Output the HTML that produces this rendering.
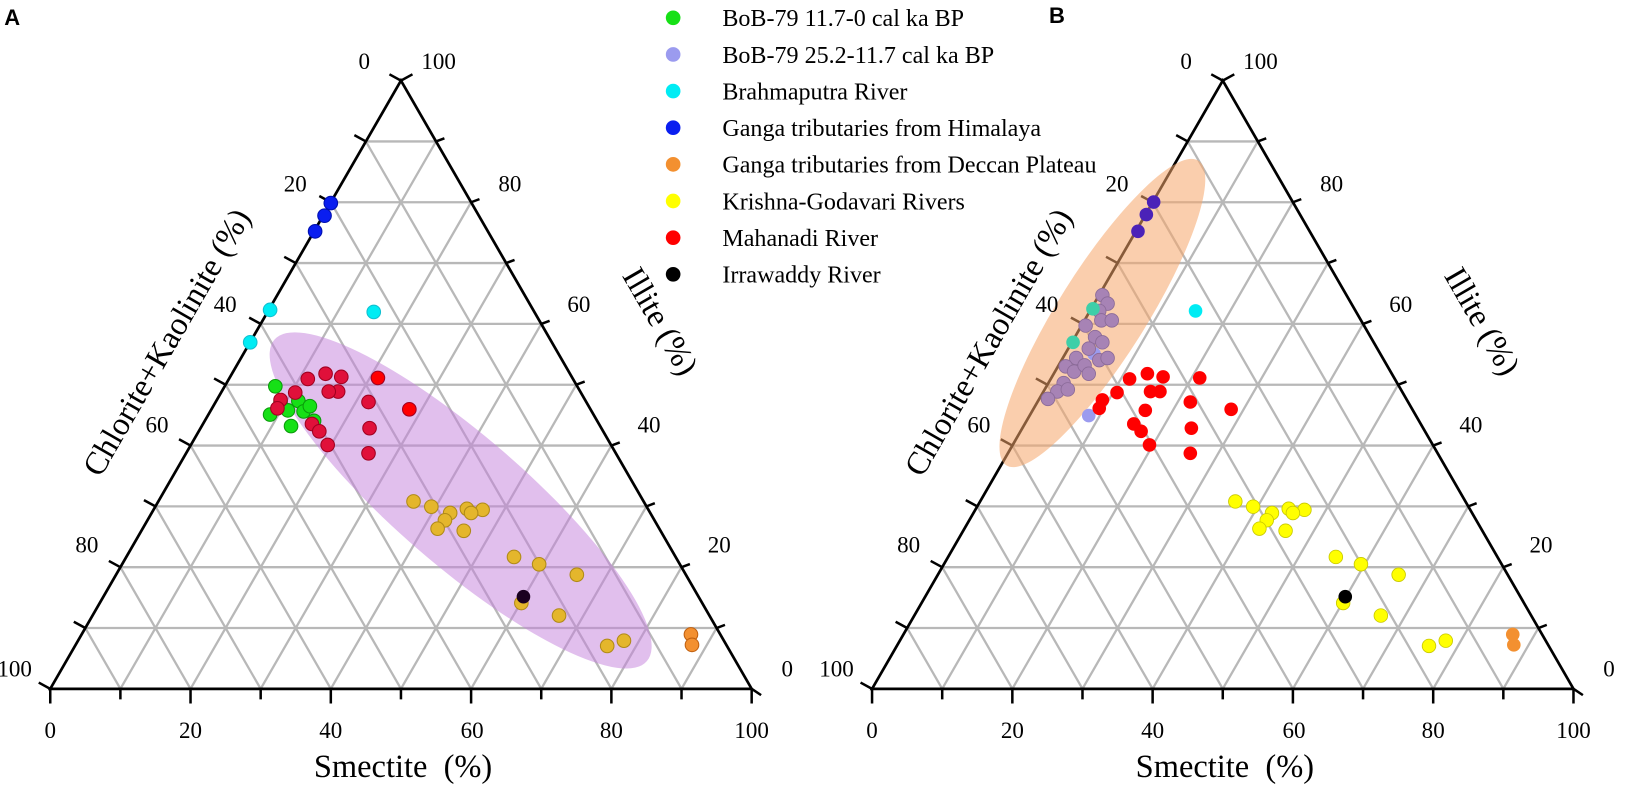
<!DOCTYPE html>
<html><head><meta charset="utf-8"><style>
html,body{margin:0;padding:0;background:#fff;}
svg{display:block;font-family:"Liberation Serif",serif;}
</style></head><body>
<svg width="1641" height="804" viewBox="0 0 1567.5 768" preserveAspectRatio="none" xmlns="http://www.w3.org/2000/svg">
<defs>
<g id="grid" stroke="#b8b8b8" stroke-width="2.2" fill="none">
<path d="M81.5 599.9H684.5M115 541.8H651M148.5 483.7H617.5M182 425.6H584M215.5 367.5H550.5M249 309.4H517M282.5 251.3H483.5M316 193.2H450M349.5 135.1H416.5"/>
<path d="M115 658L416.5 135.1M182 658L450 193.2M249 658L483.5 251.3M316 658L517 309.4M383 658L550.5 367.5M450 658L584 425.6M517 658L617.5 483.7M584 658L651 541.8M651 658L684.5 599.9"/>
<path d="M115 658L81.5 599.9M182 658L115 541.8M249 658L148.5 483.7M316 658L182 425.6M383 658L215.5 367.5M450 658L249 309.4M517 658L282.5 251.3M584 658L316 193.2M651 658L349.5 135.1"/>
</g>
<g id="axes" stroke="#000" fill="none">
<path d="M48 658L718 658L383 77Z" stroke-width="2.6" stroke-linejoin="miter"/>
<path stroke-width="2.4" d="M48 658v14M115 658v10M182 658v14M249 658v10M316 658v14M383 658v10M450 658v14M517 658v10M584 658v14M651 658v10M718 658v14
M48 658l-11-6M81.5 599.9l-11-6M115 541.8l-11-6M148.5 483.7l-11-6M182 425.6l-11-6M215.5 367.5l-11-6M249 309.4l-11-6M282.5 251.3l-11-6M316 193.2l-11-6M349.5 135.1l-11-6M383 77l-11-6
M383 77l11-6M416.5 135.1l8-3M450 193.2l8-3M483.5 251.3l8-3M517 309.4l8-3M550.5 367.5l8-3M584 425.6l8-3M617.5 483.7l8-3M651 541.8l8-3M684.5 599.9l8-3M718 658l9 6"/>
</g>
</defs>

<!-- Panel A -->
<use href="#grid"/>
<ellipse cx="440" cy="478" rx="235" ry="62" transform="rotate(40.8 440 478)" fill="#c47fdc" fill-opacity="0.5"/>
<use href="#axes"/>
<g font-size="22" text-anchor="middle" fill="#000">
<text x="348" y="66">0</text><text x="419" y="66">100</text>
<text x="282" y="183">20</text><text x="215" y="298">40</text><text x="150" y="413">60</text><text x="83" y="528">80</text><text x="14" y="646">100</text>
<text x="487" y="183">80</text><text x="553" y="298">60</text><text x="620" y="413">40</text><text x="687" y="528">20</text><text x="752" y="646">0</text>
<text x="48" y="705">0</text><text x="182" y="705">20</text><text x="316" y="705">40</text><text x="451" y="705">60</text><text x="584" y="705">80</text><text x="718" y="705">100</text>
</g>
<g font-size="31" text-anchor="middle">
<text x="385" y="742" xml:space="preserve">Smectite  (%)</text>
<text transform="translate(168,332) rotate(-60)">Chlorite+Kaolinite (%)</text>
<text transform="translate(622,312) rotate(60)">Illite (%)</text>
</g>
<text x="4" y="24" font-family="Liberation Sans,sans-serif" font-weight="bold" font-size="21">A</text>

<g stroke-width="1">
<g fill="#0a1ef0" stroke="#0010b0"><circle cx="316" cy="194" r="6.5"/><circle cx="310" cy="206" r="6.5"/><circle cx="301" cy="221" r="6.5"/></g>
<g fill="#00ecf4" stroke="#10c0d0"><circle cx="258" cy="296" r="6.5"/><circle cx="239" cy="327" r="6.5"/><circle cx="357" cy="298" r="6.5"/></g>
<g fill="#16e016" stroke="#0a9a0a"><circle cx="263" cy="369" r="6.5"/><circle cx="258" cy="396" r="6.5"/><circle cx="278" cy="407" r="6.5"/><circle cx="268" cy="384" r="6.5"/><circle cx="285" cy="383" r="6.5"/><circle cx="290" cy="393" r="6.5"/><circle cx="300" cy="402" r="6.5"/><circle cx="296" cy="388" r="6.5"/><circle cx="275" cy="392" r="6.5"/></g>
<g fill="#e0103a" stroke="#a00020"><circle cx="294" cy="362" r="6.5"/><circle cx="311" cy="357" r="6.5"/><circle cx="326" cy="360" r="6.5"/><circle cx="323" cy="374" r="6.5"/><circle cx="314" cy="374" r="6.5"/><circle cx="282" cy="375" r="6.5"/><circle cx="268" cy="382" r="6.5"/><circle cx="265" cy="390" r="6.5"/><circle cx="298" cy="405" r="6.5"/><circle cx="305" cy="412" r="6.5"/><circle cx="313" cy="425" r="6.5"/><circle cx="352" cy="384" r="6.5"/><circle cx="353" cy="409" r="6.5"/><circle cx="352" cy="433" r="6.5"/><circle cx="391" cy="391" r="6.5" fill="#f00"/><circle cx="361" cy="361" r="6.5" fill="#f00"/></g>
<g fill="#e4b62c" stroke="#b08a18"><circle cx="395" cy="479" r="6.5"/><circle cx="412" cy="484" r="6.5"/><circle cx="430" cy="490" r="6.5"/><circle cx="446" cy="486" r="6.5"/><circle cx="461" cy="487" r="6.5"/><circle cx="450" cy="490" r="6.5"/><circle cx="425" cy="497" r="6.5"/><circle cx="418" cy="505" r="6.5"/><circle cx="443" cy="507" r="6.5"/><circle cx="491" cy="532" r="6.5"/><circle cx="515" cy="539" r="6.5"/><circle cx="551" cy="549" r="6.5"/><circle cx="498" cy="576" r="6.5"/><circle cx="534" cy="588" r="6.5"/><circle cx="580" cy="617" r="6.5"/><circle cx="596" cy="612" r="6.5"/></g>
<g fill="#f39030" stroke="#c06010"><circle cx="660" cy="606" r="6.5"/><circle cx="661" cy="616" r="6.5"/></g>
<circle cx="500" cy="570" r="6.5" fill="#1a0020"/>
</g>

<!-- Panel B -->
<g transform="translate(785,0)">
<use href="#grid"/>
<use href="#axes"/>
</g>
<ellipse cx="1053" cy="299" rx="172" ry="42" transform="rotate(-57.8 1053 299)" fill="#f6a56a" fill-opacity="0.55"/>
<g font-size="22" text-anchor="middle" fill="#000">
<text x="1133" y="66">0</text><text x="1204" y="66">100</text>
<text x="1067" y="183">20</text><text x="1000" y="298">40</text><text x="935" y="413">60</text><text x="868" y="528">80</text><text x="799" y="646">100</text>
<text x="1272" y="183">80</text><text x="1338" y="298">60</text><text x="1405" y="413">40</text><text x="1472" y="528">20</text><text x="1537" y="646">0</text>
<text x="833" y="705">0</text><text x="967" y="705">20</text><text x="1101" y="705">40</text><text x="1236" y="705">60</text><text x="1369" y="705">80</text><text x="1503" y="705">100</text>
</g>
<g font-size="31" text-anchor="middle">
<text x="1170" y="742" xml:space="preserve">Smectite  (%)</text>
<text transform="translate(953,332) rotate(-60)">Chlorite+Kaolinite (%)</text>
<text transform="translate(1407,312) rotate(60)">Illite (%)</text>
</g>
<text x="1002" y="22" font-family="Liberation Sans,sans-serif" font-weight="bold" font-size="21">B</text>

<g>
<g fill="#4b22b8"><circle cx="1102" cy="193" r="6.5"/><circle cx="1095" cy="205" r="6.5"/><circle cx="1087" cy="221" r="6.5"/></g>
<circle cx="1142" cy="297" r="6.5" fill="#00ecf4"/>
<g fill="#9b9bef"><circle cx="1040" cy="397" r="6.5"/><circle cx="1045" cy="338" r="6.5"/></g>
<g fill="#a783b5" stroke="#8a6a98" stroke-width="0.8">
<circle cx="1053" cy="282" r="6.5"/><circle cx="1058" cy="290" r="6.5"/><circle cx="1050" cy="297" r="6.5"/><circle cx="1052" cy="306" r="6.5"/><circle cx="1062" cy="306" r="6.5"/><circle cx="1037" cy="311" r="6.5"/><circle cx="1046" cy="322" r="6.5"/><circle cx="1053" cy="327" r="6.5"/><circle cx="1040" cy="333" r="6.5"/><circle cx="1028" cy="342" r="6.5"/><circle cx="1018" cy="350" r="6.5"/><circle cx="1026" cy="355" r="6.5"/><circle cx="1036" cy="349" r="6.5"/><circle cx="1050" cy="344" r="6.5"/><circle cx="1040" cy="357" r="6.5"/><circle cx="1016" cy="366" r="6.5"/><circle cx="1010" cy="374" r="6.5"/><circle cx="1001" cy="381" r="6.5"/><circle cx="1020" cy="372" r="6.5"/><circle cx="1058" cy="342" r="6.5"/></g>
<g fill="#3fcfa8"><circle cx="1044" cy="295" r="6.5"/><circle cx="1025" cy="327" r="6.5"/></g>
<g fill="#ff0000"><circle cx="1079" cy="362" r="6.5"/><circle cx="1096" cy="357" r="6.5"/><circle cx="1111" cy="360" r="6.5"/><circle cx="1108" cy="374" r="6.5"/><circle cx="1099" cy="374" r="6.5"/><circle cx="1067" cy="375" r="6.5"/><circle cx="1053" cy="382" r="6.5"/><circle cx="1050" cy="390" r="6.5"/><circle cx="1083" cy="405" r="6.5"/><circle cx="1090" cy="412" r="6.5"/><circle cx="1098" cy="425" r="6.5"/><circle cx="1137" cy="384" r="6.5"/><circle cx="1138" cy="409" r="6.5"/><circle cx="1137" cy="433" r="6.5"/><circle cx="1176" cy="391" r="6.5"/><circle cx="1146" cy="361" r="6.5"/><circle cx="1094" cy="392" r="6.5"/></g>
<g fill="#ffff00" stroke="#c8c800" stroke-width="0.8"><circle cx="1180" cy="479" r="6.5"/><circle cx="1197" cy="484" r="6.5"/><circle cx="1215" cy="490" r="6.5"/><circle cx="1231" cy="486" r="6.5"/><circle cx="1246" cy="487" r="6.5"/><circle cx="1235" cy="490" r="6.5"/><circle cx="1210" cy="497" r="6.5"/><circle cx="1203" cy="505" r="6.5"/><circle cx="1228" cy="507" r="6.5"/><circle cx="1276" cy="532" r="6.5"/><circle cx="1300" cy="539" r="6.5"/><circle cx="1336" cy="549" r="6.5"/><circle cx="1283" cy="576" r="6.5"/><circle cx="1319" cy="588" r="6.5"/><circle cx="1365" cy="617" r="6.5"/><circle cx="1381" cy="612" r="6.5"/></g>
<g fill="#f39030"><circle cx="1445" cy="606" r="6.5"/><circle cx="1446" cy="616" r="6.5"/></g>
<circle cx="1285" cy="570" r="6.5" fill="#000"/>
</g>

<!-- Legend -->
<g font-size="23">
<circle cx="643" cy="17" r="7" fill="#16e016"/><text x="690" y="25">BoB-79 11.7-0 cal ka BP</text>
<circle cx="643" cy="52" r="7" fill="#9b9bef"/><text x="690" y="60">BoB-79 25.2-11.7 cal ka BP</text>
<circle cx="643" cy="87" r="7" fill="#00ecf4"/><text x="690" y="95">Brahmaputra River</text>
<circle cx="643" cy="122" r="7" fill="#0a1ef0"/><text x="690" y="130">Ganga tributaries from Himalaya</text>
<circle cx="643" cy="157" r="7" fill="#f39030"/><text x="690" y="165">Ganga tributaries from Deccan Plateau</text>
<circle cx="643" cy="192" r="7" fill="#ffff00"/><text x="690" y="200">Krishna-Godavari Rivers</text>
<circle cx="643" cy="227" r="7" fill="#ff0000"/><text x="690" y="235">Mahanadi River</text>
<circle cx="643" cy="262" r="7" fill="#000"/><text x="690" y="270">Irrawaddy River</text>
</g>
</svg>
</body></html>
